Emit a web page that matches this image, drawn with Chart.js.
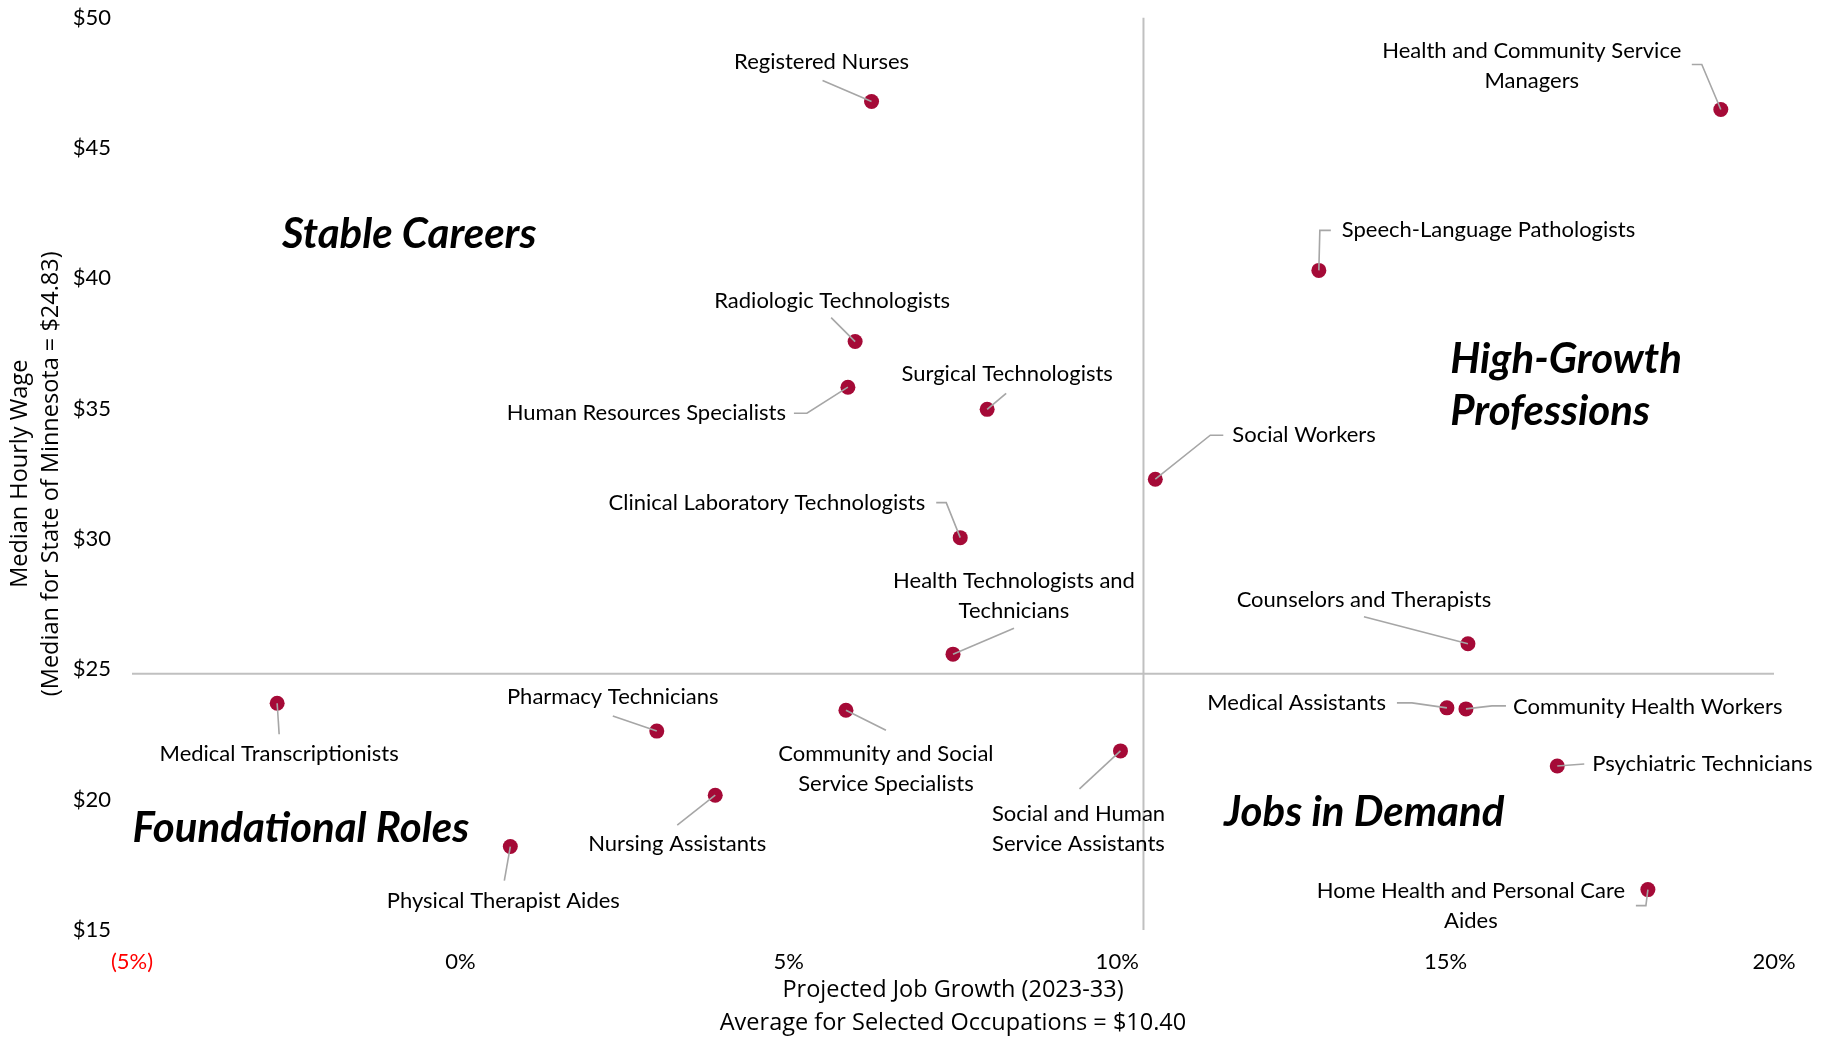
<!DOCTYPE html>
<html>
<head>
<meta charset="utf-8">
<title>Projected Job Growth vs Median Hourly Wage</title>
<script src="https://cdn.jsdelivr.net/npm/chart.js@4.4.1/dist/chart.umd.min.js"></script>
<style>
    html, body { margin: 0; padding: 0; background: #ffffff; }
    #chart-wrap { width: 1828px; height: 1040px; position: relative; }
</style>
</head>
<body>
<div id="chart-wrap"><canvas id="wage-growth-chart"></canvas></div>
<script>

// occupations, projected job growth (%) and median hourly wage ($)
var occupations = [
    'Registered Nurses',
    'Health and Community Service Managers',
    'Speech-Language Pathologists',
    'Radiologic Technologists',
    'Human Resources Specialists',
    'Surgical Technologists',
    'Social Workers',
    'Clinical Laboratory Technologists',
    'Counselors and Therapists',
    'Health Technologists and Technicians',
    'Medical Transcriptionists',
    'Community and Social Service Specialists',
    'Medical Assistants',
    'Community Health Workers',
    'Pharmacy Technicians',
    'Social and Human Service Assistants',
    'Psychiatric Technicians',
    'Nursing Assistants',
    'Physical Therapist Aides',
    'Home Health and Personal Care Aides'
];
var jobGrowth = [6.26, 19.19, 13.07, 6.01, 5.90, 8.02, 10.58, 7.61, 15.34, 7.50,
    -2.79, 5.87, 15.02, 15.31, 2.99, 10.05, 16.70, 3.88, 0.76, 18.08];
var hourlyWage = [46.78, 46.47, 40.30, 37.57, 35.82, 34.97, 32.29, 30.05, 25.98, 25.58,
    23.70, 23.43, 23.52, 23.48, 22.63, 21.87, 21.29, 20.17, 18.20, 16.55];

var stateMedianWage = 24.83;
var avgJobGrowth = 10.40;

var xTickValues = [-5, 0, 5, 10, 15, 20];
var yTickValues = [15, 20, 25, 30, 35, 40, 45, 50];

var quadrantNames = ['Stable Careers', 'High-Growth Professions', 'Foundational Roles', 'Jobs in Demand'];

// label placement (pixel offsets from each point), same order as occupations
var labelLayout = [
    { dx: -50, dy: -40, lead: [[-49, -21]] },
    { dx: -189, dy: -44, split: 4, lead: [[-29, -45], [-19, -45]] },
    { dx: 23, dy: -40, align: 'left', lead: [[12, -40], [1, -40]] },
    { dx: -23, dy: -41, lead: [[-24, -24]] },
    { dx: -62, dy: 26, align: 'right', lead: [[-54, 26], [-41, 26]] },
    { dx: 20, dy: -35, lead: [[19, -16]] },
    { dx: 77, dy: -44, align: 'left', lead: [[68, -44], [55, -44]] },
    { dx: -35, dy: -35, align: 'right', lead: [[-24, -35], [-14, -35]] },
    { dx: -104, dy: -44, lead: [[-104, -27]] },
    { dx: 61, dy: -58, split: 3, lead: [[61, -26]] },
    { dx: 2, dy: 51, lead: [[2, 31]] },
    { dx: 40, dy: 59, split: 3, lead: [[40, 20]] },
    { dx: -61, dy: -5, align: 'right', lead: [[-50, -5], [-35, -5]] },
    { dx: 47, dy: -2, align: 'left', lead: [[40, -3], [26, -3]] },
    { dx: -44, dy: -34, lead: [[-44, -15]] },
    { dx: -42, dy: 78, split: 3, lead: [[-41, 38]] },
    { dx: 35, dy: -2, align: 'left', lead: [[27, -2]] },
    { dx: -38, dy: 49, lead: [[-38, 30]] },
    { dx: -7, dy: 54, lead: [[-6, 34]] },
    { dx: -177, dy: 16, split: 5, lead: [[-12, 16], [-2, 16]] }
];

// quadrant captions, anchored in data units
var quadrantLayout = [
    { x: -0.78, y: 41.66, align: 'center' },
    { x: 15.07, y: 35.90, align: 'left', split: 1 },
    { x: -2.43, y: 18.91, align: 'center' },
    { x: 13.76, y: 19.49, align: 'center' }
];

var LABEL_FONT = '22px Lato';
var LABEL_LINE = 30;
var QUAD_FONT = 'italic bold 42px Lato';
var QUAD_LINE = 52;

function splitLabel(text, split) {
    if (!split) {
        return [text];
    }
    var words = text.split(' ');
    return [words.slice(0, split).join(' '), words.slice(split).join(' ')];
}

var calloutPlugin = {
    id: 'callouts',
    afterDatasetsDraw: function (chart) {
        var ctx = chart.ctx;
        var meta = chart.getDatasetMeta(0);
        var xScale = chart.scales.x;
        var yScale = chart.scales.y;

        ctx.save();

        // leader lines
        ctx.strokeStyle = '#a6a6a6';
        ctx.lineWidth = 1.6;
        meta.data.forEach(function (pt, i) {
            var lay = labelLayout[i];
            ctx.beginPath();
            ctx.moveTo(pt.x + lay.lead[0][0], pt.y + lay.lead[0][1]);
            for (var k = 1; k < lay.lead.length; k++) {
                ctx.lineTo(pt.x + lay.lead[k][0], pt.y + lay.lead[k][1]);
            }
            ctx.lineTo(pt.x, pt.y);
            ctx.stroke();
        });

        // data labels
        ctx.font = LABEL_FONT;
        ctx.fillStyle = '#000000';
        ctx.textBaseline = 'middle';
        meta.data.forEach(function (pt, i) {
            var lay = labelLayout[i];
            var lines = splitLabel(occupations[i], lay.split);
            ctx.textAlign = lay.align || 'center';
            var y0 = pt.y + lay.dy - (lines.length - 1) * LABEL_LINE / 2;
            lines.forEach(function (t, k) {
                ctx.fillText(t, pt.x + lay.dx, y0 + k * LABEL_LINE);
            });
        });

        // quadrant captions
        ctx.font = QUAD_FONT;
        quadrantNames.forEach(function (name, i) {
            var q = quadrantLayout[i];
            var lines = splitLabel(name, q.split);
            var px = xScale.getPixelForValue(q.x);
            var py = yScale.getPixelForValue(q.y) - (lines.length - 1) * QUAD_LINE / 2;
            ctx.textAlign = q.align;
            lines.forEach(function (t, k) {
                ctx.fillText(t, px, py + k * QUAD_LINE);
            });
        });

        ctx.restore();
    }
};

var ctx = document.getElementById('wage-growth-chart');

var WageGrowthChart = new Chart(ctx, {
    type: 'scatter',
    data: {
        datasets: [{
            label: 'Occupations',
            data: occupations.map(function (name, i) {
                return { x: jobGrowth[i], y: hourlyWage[i] };
            }),
            backgroundColor: '#a50a37',
            borderWidth: 0,
            pointRadius: 7.5,
            pointHoverRadius: 7.5
        }, {
            label: 'Average job growth',
            data: [{ x: avgJobGrowth, y: yTickValues[0] }, { x: avgJobGrowth, y: yTickValues[yTickValues.length - 1] }],
            showLine: true,
            borderColor: '#c0c0c0',
            borderWidth: 2,
            pointRadius: 0
        }, {
            label: 'State median wage',
            data: [{ x: xTickValues[0], y: stateMedianWage }, { x: xTickValues[xTickValues.length - 1], y: stateMedianWage }],
            showLine: true,
            borderColor: '#c0c0c0',
            borderWidth: 2,
            pointRadius: 0
        }]
    },
    plugins: [calloutPlugin],
    options: {
        responsive: true,
        maintainAspectRatio: false,
        animation: false,
        events: [],
        layout: {
            padding: { top: 17.5, right: 54, bottom: 0, left: 0 }
        },
        plugins: {
            legend: { display: false },
            tooltip: { enabled: false }
        },
        scales: {
            x: {
                type: 'linear',
                min: xTickValues[0],
                max: xTickValues[xTickValues.length - 1],
                border: { display: false },
                grid: { display: false, drawTicks: false },
                afterBuildTicks: function (scale) {
                    scale.ticks = xTickValues.map(function (v) { return { value: v }; });
                },
                afterFit: function (scale) {
                    scale.height = 110;
                },
                ticks: {
                    padding: 19,
                    font: { family: 'Lato', size: 22 },
                    color: function (c) {
                        return c.tick && c.tick.value < 0 ? '#ff0000' : '#000000';
                    },
                    callback: function (v) {
                        return v < 0 ? '(' + Math.abs(v) + '%)' : v + '%';
                    }
                },
                title: {
                    display: true,
                    text: ['Projected Job Growth (2023-33)', 'Average for Selected Occupations = $10.40'],
                    color: '#000000',
                    font: { family: 'Open Sans', size: 23.5, lineHeight: '33px' },
                    padding: { top: 0, bottom: 0 }
                }
            },
            y: {
                type: 'linear',
                min: yTickValues[0],
                max: yTickValues[yTickValues.length - 1],
                border: { display: false },
                grid: { display: false, drawTicks: false },
                afterBuildTicks: function (scale) {
                    scale.ticks = yTickValues.map(function (v) { return { value: v }; });
                },
                afterFit: function (scale) {
                    scale.width = 132;
                    scale.paddingTop = 0;
                    scale.paddingBottom = 0;
                },
                ticks: {
                    padding: 21,
                    font: { family: 'Lato', size: 22 },
                    color: '#000000',
                    callback: function (v) {
                        return '$' + v;
                    }
                },
                title: {
                    display: true,
                    text: ['Median Hourly Wage', '(Median for State of Minnesota = $24.83)'],
                    color: '#000000',
                    font: { family: 'Open Sans', size: 23.5, lineHeight: '31px' },
                    padding: { top: 5, bottom: 0 }
                }
            }
        }
    }
});

</script>
</body>
</html>
